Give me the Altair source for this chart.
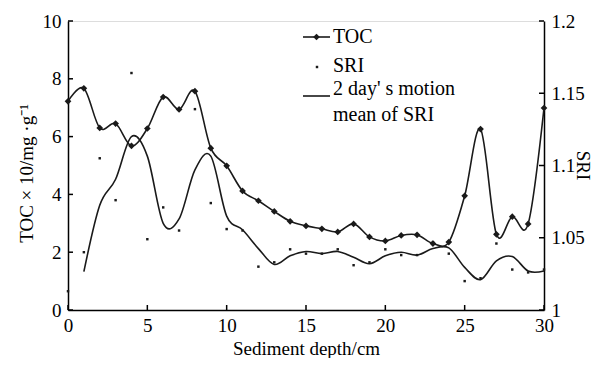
import altair as alt
import pandas as pd

# ---- data ----
depth = list(range(31))
toc = [7.22, 7.67, 6.30, 6.45, 5.68, 6.28, 7.37, 6.94, 7.57, 5.60, 4.99,
       4.12, 3.78, 3.41, 3.07, 2.91, 2.81, 2.70, 2.98, 2.53, 2.39,
       2.58, 2.60, 2.30, 2.35, 3.95, 6.26, 2.62, 3.23, 2.98, 6.99]
sri = [1.013, 1.040, 1.105, 1.076, 1.164, 1.049, 1.071, 1.055, 1.139, 1.074, 1.056,
       1.055, 1.030, 1.033, 1.042, 1.039, 1.039, 1.042, 1.031, 1.033, 1.042,
       1.038, 1.038, 1.047, 1.039, 1.020, 1.022, 1.046, 1.028, 1.026, 1.028]
ma_depth = list(range(1, 31))
ma_sri = [1.0265, 1.0725, 1.0905, 1.120, 1.1065, 1.060, 1.063, 1.097, 1.1065, 1.065,
          1.0555, 1.0425, 1.0315, 1.0375, 1.0405, 1.039, 1.0405, 1.0365, 1.032, 1.0375,
          1.040, 1.038, 1.0425, 1.043, 1.0295, 1.021, 1.034, 1.037, 1.027, 1.027]
x_ticks = [0, 5, 10, 15, 20, 25, 30]
toc_ticks = [0, 2, 4, 6, 8, 10]
sri_ticks = [1, 1.05, 1.1, 1.15, 1.2]

FONT = "Liberation Serif"
INK = "#1a1a1a"
W, H = 476, 289
FS = 19

main_df = pd.DataFrame({"depth": depth, "toc": toc, "sri": sri})
ma_df = pd.DataFrame({"depth": ma_depth, "ma": ma_sri})
xt_df = pd.DataFrame({"v": x_ticks})
lt_df = pd.DataFrame({"v": toc_ticks})
rt_df = pd.DataFrame({"v": sri_ticks})
one = pd.DataFrame({"a": [0]})

xscale = alt.Scale(domain=[0, 30], nice=False, zero=False)
lscale = alt.Scale(domain=[0, 10], nice=False, zero=False)
rscale = alt.Scale(domain=[1, 1.2], nice=False, zero=False)

common_axis = dict(ticks=False, grid=False, domainColor="black", domainWidth=1.5,
                   labelFont=FONT, labelFontSize=FS, labelColor="black", labelFlush=False,
                   titleFont=FONT, titleFontSize=FS, titleFontWeight="normal", titleColor="black")

xaxis = alt.Axis(values=x_ticks, labelPadding=6, title="Sediment depth/cm",
                 titleY=44, titleBaseline="alphabetic", titleAnchor="middle", **common_axis)
laxis = alt.Axis(values=toc_ticks, labelPadding=7, orient="left",
                 title="TOC × 10/mg ·g⁻¹", titleAngle=-90, titleX=-42, titleY=152,
                 titleAlign="center", titleBaseline="middle", **common_axis)
raxis = alt.Axis(values=sri_ticks, labelPadding=7, orient="right", format="~g",
                 title="SRI", titleAngle=90, titleX=38, titleY=144,
                 titleAlign="center", titleBaseline="middle", **common_axis)

X = lambda f: alt.X(f, type="quantitative", scale=xscale, axis=xaxis)
YL = lambda f: alt.Y(f, type="quantitative", scale=lscale, axis=laxis)
YR = lambda f: alt.Y(f, type="quantitative", scale=rscale, axis=raxis)

base = alt.Chart(main_df)
toc_line = base.mark_line(color=INK, strokeWidth=1.6, interpolate="cardinal").encode(
    x=X("depth"), y=YL("toc"))
toc_pts = base.mark_point(shape="diamond", filled=True, color=INK, size=45, opacity=1).encode(
    x=X("depth"), y=YL("toc"))
left_ticks = alt.Chart(lt_df).mark_rule(color="black", strokeWidth=1.5).encode(
    x=alt.value(0), x2=alt.value(5), y=YL("v"))
bottom_ticks = alt.Chart(xt_df).mark_rule(color="black", strokeWidth=1.5).encode(
    x=X("v"), y=alt.value(H), y2=alt.value(H - 5))

sri_pts = base.mark_square(color=INK, size=6, opacity=1).encode(
    x=X("depth"), y=YR("sri"))
ma_line = alt.Chart(ma_df).mark_line(color=INK, strokeWidth=1.6, interpolate="cardinal").encode(
    x=X("depth"), y=YR("ma"))
right_ticks = alt.Chart(rt_df).mark_rule(color="black", strokeWidth=1.5).encode(
    x=alt.value(W - 5), x2=alt.value(W), y=YR("v"))

# ---- legend (drawn in pixel space) ----
leg = alt.Chart(one)
lg_toc_line = leg.mark_rule(color=INK, strokeWidth=1.6).encode(
    x=alt.value(235), x2=alt.value(262), y=alt.value(16))
lg_toc_pt = leg.mark_point(shape="diamond", filled=True, color=INK, size=45, opacity=1).encode(
    x=alt.value(248.5), y=alt.value(16))
lg_sri_pt = leg.mark_square(color=INK, size=6, opacity=1).encode(
    x=alt.value(249), y=alt.value(46))
lg_ma_line = leg.mark_rule(color=INK, strokeWidth=1.6).encode(
    x=alt.value(235), x2=alt.value(262), y=alt.value(75))
lg_texts = []
for txt, yy in [("TOC", 16), ("SRI", 45), ("2 day' s motion", 68), ("mean of SRI", 94)]:
    lg_texts.append(leg.mark_text(text=txt, font=FONT, fontSize=20, color="black",
                                  align="left", baseline="middle").encode(
        x=alt.value(265), y=alt.value(yy)))

left_group = alt.layer(toc_line, toc_pts, left_ticks, bottom_ticks,
                       lg_toc_line, lg_toc_pt, lg_sri_pt, lg_ma_line, *lg_texts)
right_group = alt.layer(sri_pts, ma_line, right_ticks)

chart = alt.layer(left_group, right_group).resolve_scale(y="independent").properties(
    width=W, height=H,
    autosize=alt.AutoSizeParams(type="none"),
    padding={"left": 60, "top": 13, "right": 51, "bottom": 48},
).configure_view(stroke=None).configure(background="white").configure_axis(
    labelFont=FONT, titleFont=FONT, labelFontSize=FS, titleFontSize=FS)

chart.save("out.html", embed_options={"renderer": "svg", "actions": False})
